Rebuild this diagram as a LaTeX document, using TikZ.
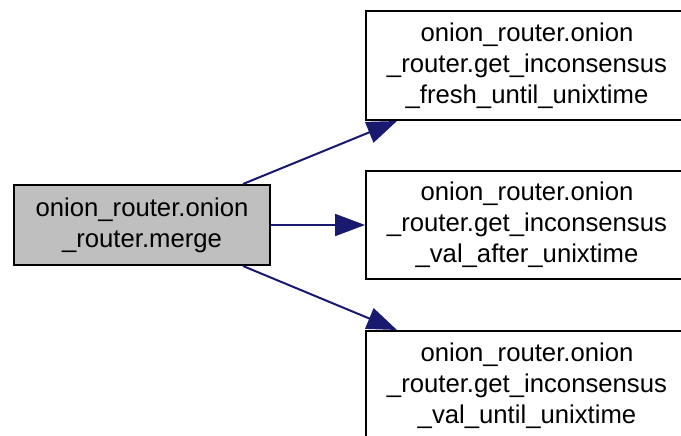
\documentclass[tikz,border=0pt]{standalone}
\usepackage{fontspec}
\setmainfont{Liberation Sans}
\usetikzlibrary{arrows.meta}
\definecolor{edgeblue}{HTML}{191970}
\definecolor{mainfill}{HTML}{BFBFBF}
\tikzset{
  fnbox/.style={draw=black, line width=2pt, rectangle, align=center, inner sep=0pt,
    font=\fontsize{25.7pt}{31pt}\selectfont},
  callarrow/.style={draw=edgeblue, line width=2pt, -{Triangle[length=30pt,width=22pt]}}
}
\begin{document}
\begin{tikzpicture}[x=1pt,y=-1pt]
\useasboundingbox (0,0) rectangle (681,436);
\clip (0,0) rectangle (681,436);
\node[fnbox, fill=mainfill, minimum width=256pt, minimum height=80pt] (main) at (142,225)
  {onion\_router.onion\\\_router.merge};
\node[fnbox, fill=white, minimum width=322pt, minimum height=109pt] (f1) at (527,65.5)
  {onion\_router.onion\\\_router.get\_inconsensus\\\_fresh\_until\_unixtime};
\node[fnbox, fill=white, minimum width=322pt, minimum height=108pt] (f2) at (527,225)
  {onion\_router.onion\\\_router.get\_inconsensus\\\_val\_after\_unixtime};
\node[fnbox, fill=white, minimum width=322pt, minimum height=109pt] (f3) at (527,385.5)
  {onion\_router.onion\\\_router.get\_inconsensus\\\_val\_until\_unixtime};
\draw[callarrow] ([xshift=-28pt]main.north east) -- ([xshift=32pt]f1.south west);
\draw[callarrow] (main.east) -- (f2.west);
\draw[callarrow] ([xshift=-28pt]main.south east) -- ([xshift=32pt]f3.north west);
\end{tikzpicture}
\end{document}
